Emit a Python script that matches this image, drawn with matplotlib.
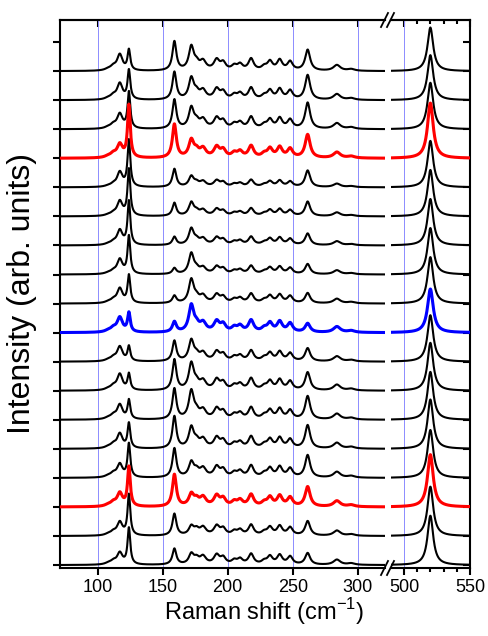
import numpy as np
import matplotlib
matplotlib.use("Agg")
import matplotlib.pyplot as plt
from matplotlib.lines import Line2D

plt.rcParams['font.family'] = ['Liberation Sans', 'DejaVu Sans']
plt.rcParams['mathtext.fontset'] = 'custom'
plt.rcParams['mathtext.rm'] = 'Liberation Sans'

# trace index 0 = bottom spectrum, 17 = top spectrum
trace_colors = ['black', 'black', 'red', 'black', 'black', 'black', 'black', 'black', 'blue',
                'black', 'black', 'black', 'black', 'black', 'red', 'black', 'black', 'black']

# peaks whose height changes from trace to trace
amp_117 = [0.4, 0.45, 0.45, 0.45, 0.5, 0.5, 0.55, 0.5, 0.5, 0.5, 0.5, 0.5, 0.5, 0.5, 0.45, 0.5, 0.55, 0.55]
amp_124 = [1.25, 1.4, 1.35, 1.15, 0.85, 0.65, 0.55, 0.5, 0.65, 0.95, 1.3, 1.5, 1.6, 1.6, 1.8, 1.25, 1.0, 0.7]
amp_159 = [0.55, 0.75, 1.1, 1.0, 1.1, 1.05, 1.05, 0.7, 0.35, 0.25, 0.2, 0.28, 0.45, 0.62, 1.15, 1.0, 0.95, 1.0]
amp_172 = [0.35, 0.3, 0.4, 0.5, 0.7, 0.95, 0.9, 0.7, 0.9, 0.8, 0.7, 0.55, 0.45, 0.35, 0.58, 0.7, 0.72, 0.8]
amp_262 = [0.4, 0.5, 0.68, 0.77, 0.8, 0.8, 0.62, 0.45, 0.3, 0.35, 0.35, 0.4, 0.5, 0.57, 0.8, 0.9, 0.85, 0.72]
amp_520 = [1.7, 1.7, 1.8, 1.65, 1.7, 1.65, 1.65, 1.6, 1.5, 1.6, 1.6, 1.6, 1.6, 1.6, 1.9, 1.6, 1.55, 1.5]
small_scale = [0.9, 0.9, 1.0, 1.0, 1.0, 1.0, 1.0, 0.9, 1.0, 0.8, 0.7, 0.7, 0.65, 0.6, 1.0, 1.0, 1.0, 1.0]

# weaker bands: position (cm-1), half width, height
small_pos = [108, 112, 176, 181, 191.5, 196.5, 205, 209.5, 218, 228, 232.5, 240, 248, 284, 295]
small_hw = [3.0, 2.5, 2.3, 2.8, 2.6, 2.4, 2.4, 2.4, 2.4, 2.4, 2.4, 2.4, 2.4, 3.2, 3.2]
small_amp = [0.05, 0.12, 0.2, 0.3, 0.35, 0.25, 0.15, 0.2, 0.4, 0.12, 0.3, 0.35, 0.3, 0.2, 0.06]

offset_step = 1.0


def lorentz(x, x0, hw, a):
    return a * hw**2 / ((x - x0)**2 + hw**2)


def spectrum(x, i):
    y = lorentz(x, 117, 2.5, amp_117[i]) + lorentz(x, 124, 1.25, amp_124[i])
    y += lorentz(x, 159, 1.8, amp_159[i]) + lorentz(x, 172, 2.3, amp_172[i])
    y += lorentz(x, 261.5, 2.3, amp_262[i]) + lorentz(x, 520, 2.6, amp_520[i])
    for p, w, a in zip(small_pos, small_hw, small_amp):
        y += lorentz(x, p, w, a * small_scale[i])
    return y


W, H = 488, 636
fig = plt.figure(figsize=(W / 100, H / 100), dpi=100)
ax1 = fig.add_axes([60 / W, 1 - 568 / H, (385 - 60) / W, 548 / H])
ax2 = fig.add_axes([391 / W, 1 - 568 / H, (470 - 391) / W, 548 / H])

x_left = np.linspace(71, 321, 2000)
x_right = np.linspace(490.2, 550, 600)

for i, c in enumerate(trace_colors):
    lw = 2.2 if c != 'black' else 1.5
    z = 3 if c != 'black' else 2
    ax1.plot(x_left, spectrum(x_left, i) + i * offset_step, color=c, lw=lw, zorder=z)
    ax2.plot(x_right, spectrum(x_right, i) + i * offset_step, color=c, lw=lw, zorder=z)

grid_c = '#8c8cff'
for g in [100, 150, 200, 250, 300]:
    ax1.axvline(g, color=grid_c, lw=0.7, zorder=1)
ax2.axvline(500, color=grid_c, lw=0.7, zorder=1)

ax1.set_xlim(71, 321)
ax2.set_xlim(490.2, 550)
for ax in (ax1, ax2):
    ax.set_ylim(-0.1, 18.76)
    for s in ax.spines.values():
        s.set_linewidth(1.5)

ax1.spines['right'].set_visible(False)
ax2.spines['left'].set_visible(False)

ax1.set_xticks([100, 150, 200, 250, 300])
ax1.set_yticks(range(19))
ax1.set_yticklabels([])
ax1.tick_params(axis='x', direction='out', length=5, width=1.5, labelsize=13, pad=3)
ax1.tick_params(axis='y', direction='out', length=5, width=1.5, left=True, right=False)

ax2.set_xticks([500, 550])
ax2.set_xticks([510, 520, 530, 540], minor=True)
ax2.set_yticks(range(19))
ax2.set_yticklabels([])
ax2.tick_params(axis='x', which='major', direction='out', length=5, width=1.5, labelsize=13, pad=3)
ax2.tick_params(axis='x', which='minor', direction='out', length=3, width=1.5)
ax2.tick_params(axis='y', direction='in', length=5, width=1.5, left=False, right=True)

# top ticks point inwards
top1 = ax1.secondary_xaxis('top')
top1.set_xticks([100, 150, 200, 250, 300])
top1.set_xticklabels([])
top1.tick_params(direction='in', length=5, width=1.5)
top1.spines['top'].set_linewidth(1.5)
top2 = ax2.secondary_xaxis('top')
top2.set_xticks([500, 550])
top2.set_xticks([510, 520, 530, 540], minor=True)
top2.set_xticklabels([])
top2.tick_params(which='major', direction='in', length=5, width=1.5)
top2.tick_params(which='minor', direction='in', length=3, width=1.5)
top2.spines['top'].set_linewidth(1.5)

# axis break marks
for yb in (20, 568):
    for x0 in (381, 387):
        fig.add_artist(Line2D([x0 / W, (x0 + 7) / W], [1 - (yb + 7) / H, 1 - (yb - 7) / H],
                              color='black', lw=1.3, transform=fig.transFigure))

fig.text(264 / W, 1 - 612 / H, 'Raman shift (cm$^{-1}$)', ha='center', va='center', fontsize=17)
fig.text(22 / W, 1 - 294 / H, 'Intensity (arb. units)', ha='center', va='center',
         fontsize=23, rotation=90)

fig.savefig('out.png', dpi=100)
